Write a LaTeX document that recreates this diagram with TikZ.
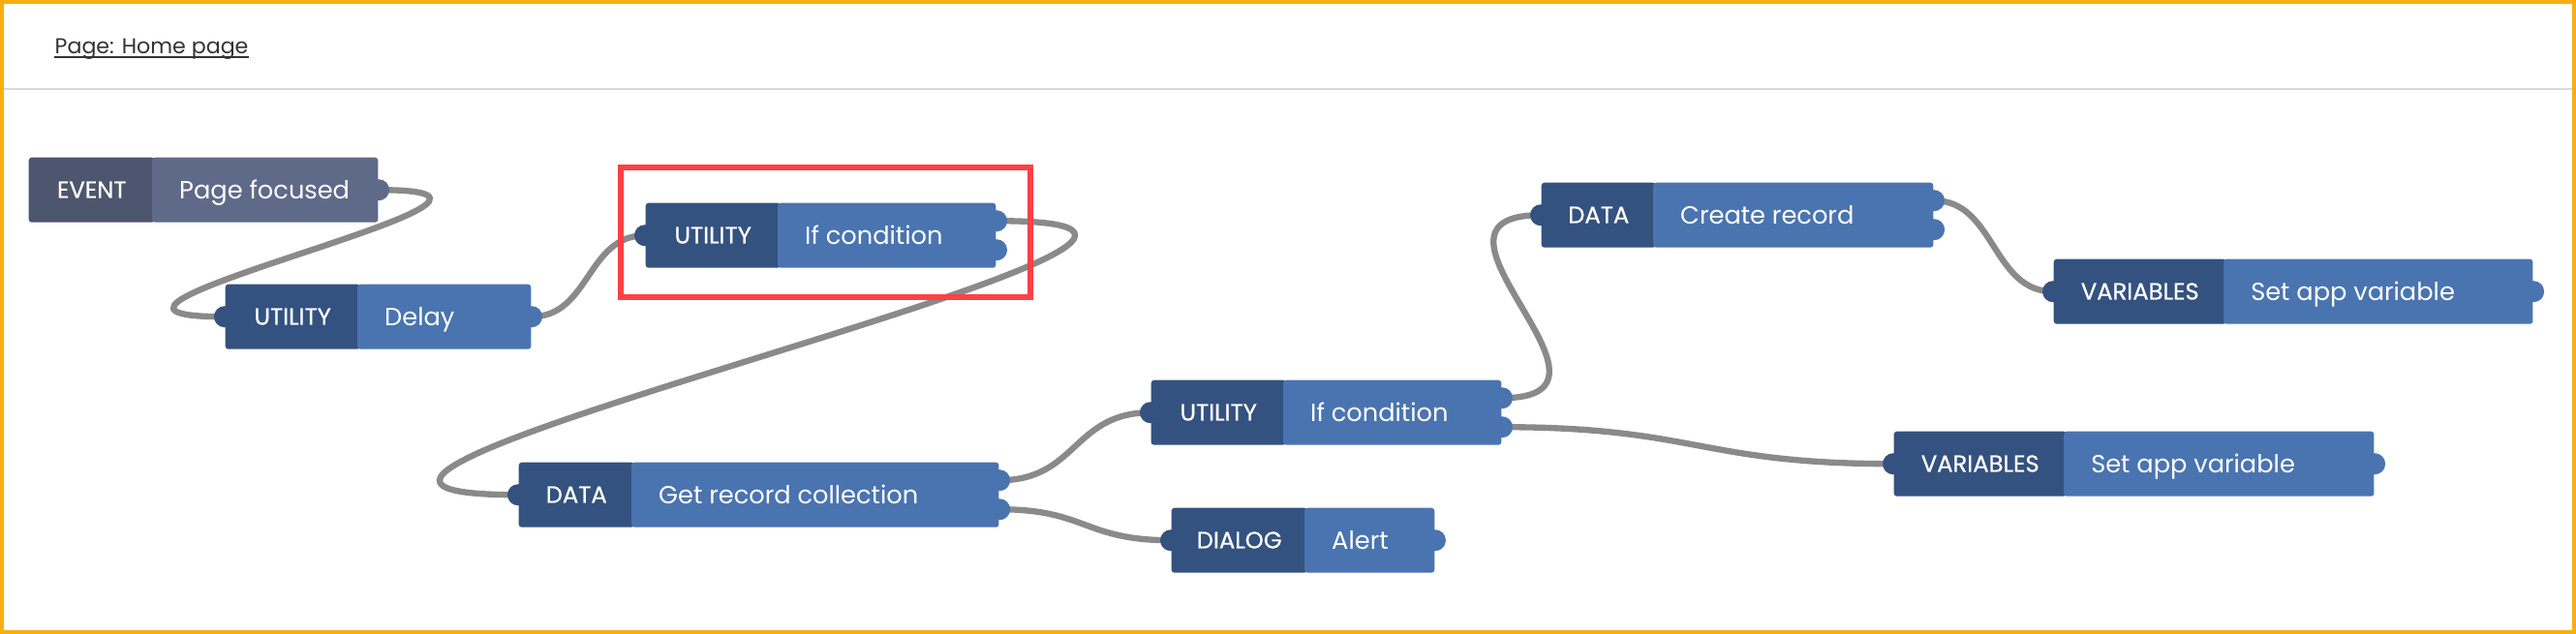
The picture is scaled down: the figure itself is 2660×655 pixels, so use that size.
\documentclass[tikz,border=0pt]{standalone}
\usepackage{fontspec}
\setmainfont{Poppins}
\newfontfamily\catfont{Poppins}[FakeBold=0.6]
\usetikzlibrary{positioning,backgrounds}
\definecolor{evdark}{HTML}{4D566E}
\definecolor{evlight}{HTML}{5F6A88}
\definecolor{udark}{HTML}{34527F}
\definecolor{ulight}{HTML}{4A74B0}
\definecolor{wirecol}{HTML}{8A8A8A}
\definecolor{hilite}{HTML}{FD4046}
\definecolor{frame}{HTML}{F8AE13}
\definecolor{sep}{HTML}{D9D9DE}
\definecolor{hdrtext}{HTML}{333333}

\begin{document}
\begin{tikzpicture}
  [x=0.01cm,y=-0.01cm,
   cat/.style={fill=#1,text=white,rounded corners=0.3mm,anchor=north west,
     minimum height=6.7mm,inner sep=0pt,text height=1.65mm,text depth=0pt,
     font=\catfont\fontsize{6.9}{8}\selectfont},
   lab/.style={fill=#1,rounded corners=0.3mm,minimum height=6.7mm,inner sep=0pt},
   labtext/.style={anchor=west,xshift=2.8mm,inner sep=0pt,text=white,
     text height=1.85mm,text depth=0pt,font=\fontsize{7.3}{9}\selectfont},
   port/.style={circle,fill=#1,inner sep=0pt,minimum size=2.2mm},
   wire/.style={draw=wirecol,line width=1.8pt}]

  \useasboundingbox (0,0) rectangle (2660,655);
  \draw[frame,line width=0.4mm] (2,2) rectangle (2658,653);
  \draw[sep,line width=0.25mm] (4,92) -- (2656,92);
  \node[anchor=base west,inner sep=0pt,text=hdrtext,font=\fontsize{6.3}{8}\selectfont] (title) at (56,56) {Page: Home page};
  \draw[hdrtext,line width=0.2mm] ([yshift=-0.3mm]title.base west) -- ([yshift=-0.3mm]title.base east);

  % event
  \node[cat=evdark,minimum width=13mm] (pf-c) at (29,162) {EVENT};
  \node[lab=evlight,minimum width=23.3mm,right=-0.4mm of pf-c,label={[labtext]west:Page focused}] (pf) {};
  \node[port=evlight] (pf-o) at (pf.east) {};

  % delay
  \node[cat=udark,minimum width=13.9mm] (dl-c) at (232,293) {UTILITY};
  \node[lab=ulight,minimum width=17.9mm,right=-0.4mm of dl-c,label={[labtext]west:Delay}] (dl) {};
  \node[port=udark] (dl-i) at (dl-c.west) {};
  \node[port=ulight] (dl-o) at (dl.east) {};

  % first if
  \node[cat=udark,minimum width=13.9mm] (if1-c) at (666,209) {UTILITY};
  \node[lab=ulight,minimum width=22.5mm,right=-0.4mm of if1-c,label={[labtext]west:If condition}] (if1) {};
  \node[port=udark] (if1-i) at (if1-c.west) {};
  \node[port=ulight] (if1-o1) at ([yshift=1.5mm]if1.east) {};
  \node[port=ulight] (if1-o2) at ([yshift=-1.5mm]if1.east) {};

  % get records
  \node[cat=udark,minimum width=11.9mm] (grc-c) at (535,477) {DATA};
  \node[lab=ulight,minimum width=37.9mm,right=-0.4mm of grc-c,label={[labtext]west:Get record collection}] (grc) {};
  \node[port=udark] (grc-i) at (grc-c.west) {};
  \node[port=ulight] (grc-o1) at ([yshift=1.5mm]grc.east) {};
  \node[port=ulight] (grc-o2) at ([yshift=-1.5mm]grc.east) {};

  % second if
  \node[cat=udark,minimum width=13.9mm] (if2-c) at (1188,392) {UTILITY};
  \node[lab=ulight,minimum width=22.5mm,right=-0.4mm of if2-c,label={[labtext]west:If condition}] (if2) {};
  \node[port=udark] (if2-i) at (if2-c.west) {};
  \node[port=ulight] (if2-o1) at ([yshift=1.5mm]if2.east) {};
  \node[port=ulight] (if2-o2) at ([yshift=-1.5mm]if2.east) {};

  % alert
  \node[cat=udark,minimum width=14mm] (al-c) at (1209,524) {DIALOG};
  \node[lab=ulight,minimum width=13.4mm,right=-0.4mm of al-c,label={[labtext]west:Alert}] (al) {};
  \node[port=udark] (al-i) at (al-c.west) {};
  \node[port=ulight] (al-o) at (al.east) {};

  % create
  \node[cat=udark,minimum width=11.8mm] (cr-c) at (1591,188) {DATA};
  \node[lab=ulight,minimum width=28.9mm,right=-0.4mm of cr-c,label={[labtext]west:Create record}] (cr) {};
  \node[port=udark] (cr-i) at (cr-c.west) {};
  \node[port=ulight] (cr-o1) at ([yshift=1.5mm]cr.east) {};
  \node[port=ulight] (cr-o2) at ([yshift=-1.5mm]cr.east) {};

  % variables
  \node[cat=udark,minimum width=17.8mm] (vt-c) at (2120,267) {VARIABLES};
  \node[lab=ulight,minimum width=31.9mm,right=-0.4mm of vt-c,label={[labtext]west:Set app variable}] (vt) {};
  \node[port=udark] (vt-i) at (vt-c.west) {};
  \node[port=ulight] (vt-o) at (vt.east) {};

  \node[cat=udark,minimum width=17.8mm] (vb-c) at (1955,445) {VARIABLES};
  \node[lab=ulight,minimum width=32mm,right=-0.4mm of vb-c,label={[labtext]west:Set app variable}] (vb) {};
  \node[port=udark] (vb-i) at (vb-c.west) {};
  \node[port=ulight] (vb-o) at (vb.east) {};

  \begin{pgfonlayer}{background}
    \foreach \from/\to/\l in {pf-o/dl-i/233, dl-o/if1-i/60, if1-o1/grc-i/413,
        grc-o1/if2-i/80, grc-o2/al-i/90, if2-o1/cr-i/151, if2-o2/vb-i/200, cr-o1/vt-i/63}
      \draw[wire] (\from.center) .. controls +(\l,0) and +(-\l,0) .. (\to.center);
  \end{pgfonlayer}

  \draw[hilite,line width=0.6mm] (641,173) rectangle (1064,307);
\end{tikzpicture}
\end{document}
